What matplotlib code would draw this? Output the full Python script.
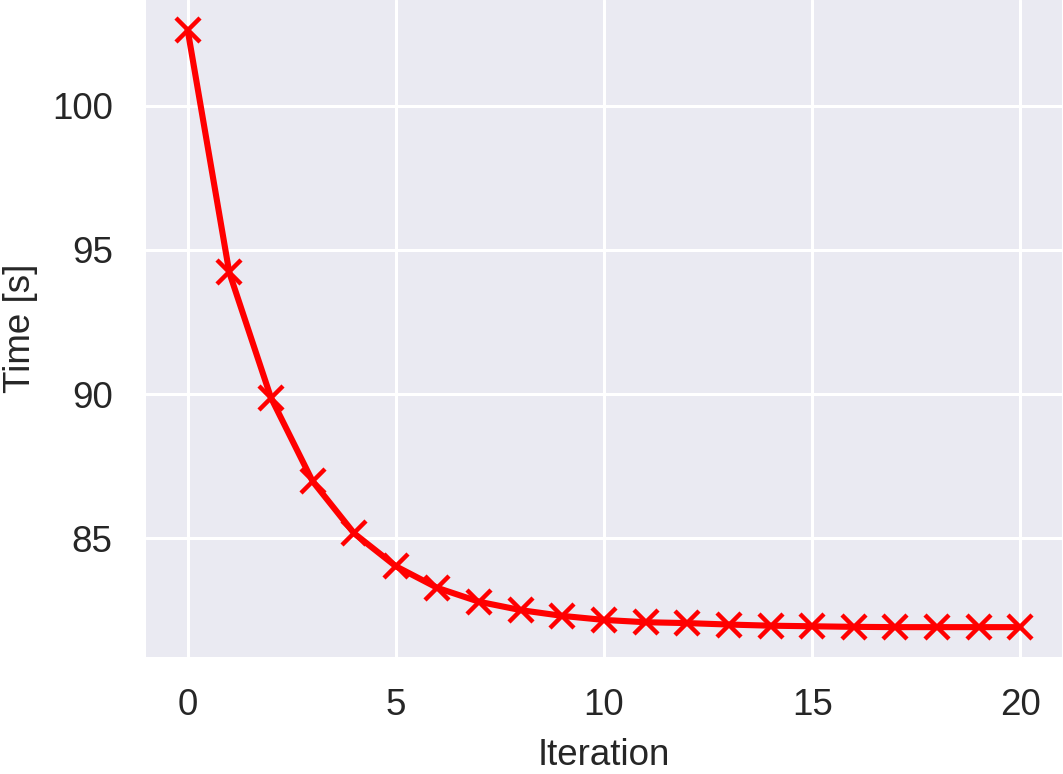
import matplotlib
matplotlib.use("Agg")
import matplotlib.pyplot as plt
import seaborn as sns

iterations = list(range(21))
times = [102.63, 94.22, 89.88, 86.98, 85.17, 84.03, 83.28, 82.80, 82.51, 82.31,
         82.17, 82.09, 82.06, 82.01, 81.97, 81.95, 81.93, 81.92, 81.92, 81.92, 81.92]

sns.set_theme(style="darkgrid")
plt.rcParams['font.family'] = ['Liberation Sans', 'DejaVu Sans']

fig = plt.figure(figsize=(10.63, 7.74), dpi=100)
ax = fig.add_axes([146/1063, 1 - 657/774, 916/1063, 657/774])

ax.plot(iterations, times, color='red', lw=4.4, marker='x', ms=17, mew=3.2)

ax.set_xticks([0, 5, 10, 15, 20])
ax.set_yticks([85, 90, 95, 100])
ax.tick_params(axis='both', labelsize=26.5, colors='#262626', length=0)
ax.tick_params(axis='x', pad=22)
ax.tick_params(axis='y', pad=24)
ax.grid(True, color='white', lw=2.2)
for s in ax.spines.values():
    s.set_visible(False)

ax.set_xlabel("Iteration", fontsize=26.5, color='#262626', labelpad=11)
ax.set_ylabel("Time [s]", fontsize=26.5, color='#262626', labelpad=10)

fig.savefig("out.png", dpi=100)
